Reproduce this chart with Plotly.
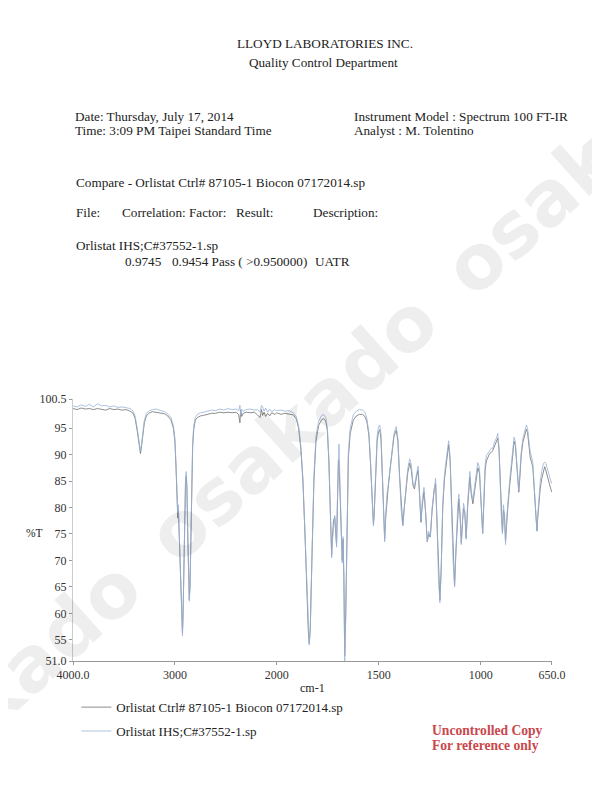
import numpy as np
import plotly.graph_objects as go

# wavenumber grid (cm-1)
wavenumber = [
    4000, 3960, 3920, 3880, 3840, 3800, 3760, 3720, 3680, 3640, 3600, 3560,
    3520, 3480, 3440, 3410, 3390, 3370, 3355, 3345, 3338, 3330, 3318, 3300,
    3280, 3250, 3220, 3180, 3140, 3100, 3070, 3040, 3015, 3000, 2990, 2980,
    2972, 2966, 2960, 2950, 2940, 2932, 2926, 2920, 2912, 2904, 2896, 2889,
    2882, 2874, 2866, 2859, 2852, 2845, 2836, 2826, 2815, 2800, 2780, 2750,
    2720, 2680, 2640, 2600, 2560, 2520, 2480, 2440, 2400, 2375, 2362, 2355,
    2345, 2330, 2300, 2260, 2220, 2190, 2165, 2150, 2140, 2125, 2110, 2090,
    2070, 2050, 2020, 2000, 1980, 1960, 1940, 1920, 1905, 1893, 1882, 1872,
    1862, 1853, 1846, 1841, 1836, 1828, 1818, 1808, 1795, 1780, 1770, 1760,
    1752, 1745, 1740, 1735, 1731, 1727, 1722, 1716, 1711, 1707, 1703, 1698,
    1695, 1691, 1687, 1683, 1679, 1675, 1671, 1667, 1662, 1656, 1649, 1640,
    1625, 1610, 1595, 1580, 1568, 1558, 1548, 1540, 1534, 1529, 1526, 1522,
    1516, 1508, 1501, 1495, 1489, 1483, 1477, 1471, 1466, 1460, 1454, 1445,
    1435, 1425, 1414, 1406, 1398, 1390, 1382, 1376, 1368, 1358, 1348, 1340,
    1332, 1325, 1316, 1307, 1300, 1293, 1286, 1278, 1270, 1262, 1255, 1247,
    1238, 1228, 1221, 1214, 1207, 1200, 1194, 1186, 1178, 1170, 1163, 1157,
    1150, 1143, 1136, 1128, 1121, 1113, 1107, 1101, 1095, 1089, 1084, 1078,
    1071, 1064, 1058, 1053, 1046, 1038, 1030, 1022, 1014, 1006, 998, 990,
    984, 978, 972, 964, 956, 948, 940, 932, 924, 916, 910, 904,
    899, 893, 888, 883, 878, 872, 866, 858, 850, 842, 836, 830,
    824, 818, 813, 807, 801, 793, 784, 776, 770, 764, 757, 750,
    744, 738, 732, 727, 724, 720, 714, 708, 700, 692, 686, 680,
    674, 668, 662, 656, 650,
]

# %T, Orlistat Ctrl# 87105-1 Biocon 07172014.sp
ctrl_t = [
    98.7, 98.5, 98.8, 98.6, 98.7, 98.5, 98.7, 98.6, 98.4, 98.7, 98.5, 98.6,
    98.4, 98.5, 98.2, 97.8, 96.8, 94.5, 92.0, 90.6, 90.2, 91.2, 93.5, 96.0,
    97.3, 97.9, 98.1, 98.0, 97.9, 97.7, 97.3, 96.6, 95.0, 92.5, 88.0, 83.0,
    78.0, 79.5, 76.0, 70.0, 63.0, 58.0, 56.3, 60.0, 70.0, 79.0, 84.5, 86.0,
    83.5, 75.0, 66.0, 62.6, 65.0, 73.0, 84.0, 91.5, 94.8, 96.5, 97.0, 97.3,
    97.4, 97.6, 97.8, 97.8, 98.0, 97.9, 98.0, 97.9, 98.0, 97.6, 96.0, 98.4,
    97.2, 97.8, 98.0, 97.9, 98.0, 97.5, 97.0, 98.5, 97.4, 98.0, 97.2, 97.8,
    97.3, 97.9, 97.6, 97.9, 97.6, 97.8, 97.6, 97.5, 96.8, 95.0, 91.0, 85.0,
    75.0, 64.0, 57.0, 54.3, 57.0, 70.0, 85.0, 92.5, 95.5, 96.6, 96.8, 96.3,
    94.5, 89.0, 81.0, 74.0, 71.0, 74.5, 77.5, 78.2, 76.0, 73.0, 80.0, 89.0,
    88.5, 84.0, 77.0, 74.5, 70.0, 74.0, 67.0, 52.0, 60.0, 78.0, 89.5, 94.0,
    96.5, 97.3, 97.6, 97.6, 97.2, 96.2, 93.5, 88.0, 82.0, 77.5, 76.8, 79.0,
    86.5, 92.5, 94.3, 94.7, 93.0, 87.0, 80.0, 74.0, 78.0, 82.0, 83.6, 87.0,
    90.5, 93.5, 94.6, 92.5, 86.0, 80.0, 76.7, 79.5, 83.0, 86.5, 88.4, 87.0,
    84.2, 83.5, 85.5, 87.0, 82.5, 77.2, 80.5, 83.0, 79.0, 73.5, 75.0, 74.4,
    79.5, 83.5, 84.5, 77.0, 67.0, 62.5, 68.0, 80.0, 85.2, 88.0, 90.5, 91.9,
    89.0, 80.0, 71.0, 65.2, 72.0, 79.0, 81.6, 78.5, 73.3, 77.5, 79.8, 79.0,
    74.2, 80.0, 84.5, 85.8, 82.5, 80.7, 83.0, 85.5, 87.5, 86.5, 80.0, 75.2,
    81.0, 87.0, 88.8, 89.5, 90.2, 90.4, 90.8, 91.6, 92.3, 93.1, 91.0, 84.0,
    79.0, 75.3, 79.5, 78.5, 73.7, 77.5, 80.4, 84.0, 87.0, 90.5, 92.5, 91.8,
    88.0, 84.0, 82.9, 86.0, 89.8, 92.3, 93.7, 94.8, 94.2, 92.2, 89.5, 88.5,
    87.6, 84.0, 80.0, 76.5, 75.6, 78.0, 81.5, 83.5, 85.5, 87.2, 87.7, 87.0,
    86.0, 85.3, 84.3, 83.5, 82.9,
]

# %T, Orlistat IHS;C#37552-1.sp
ihs_t = [
    99.2, 99.0, 99.4, 99.1, 99.5, 99.0, 99.6, 99.2, 99.3, 99.0, 99.2, 98.9,
    99.0, 98.8, 98.7, 98.2, 97.2, 95.0, 92.5, 91.0, 90.6, 91.5, 93.8, 96.4,
    97.8, 98.3, 98.5, 98.6, 98.3, 98.1, 97.7, 97.0, 95.5, 93.0, 88.5, 83.5,
    79.0, 80.5, 77.0, 70.5, 63.0, 57.5, 55.8, 59.5, 70.0, 79.5, 85.5, 86.8,
    84.0, 75.0, 65.5, 62.3, 65.0, 73.5, 85.0, 92.3, 95.5, 97.0, 97.6, 97.9,
    98.0, 98.2, 98.4, 98.3, 98.6, 98.4, 98.7, 98.5, 98.6, 98.3, 99.3, 97.5,
    98.6, 98.2, 98.5, 98.6, 98.4, 98.5, 98.0, 99.3, 99.0, 98.2, 98.8, 98.0,
    98.6, 98.1, 98.5, 98.3, 98.4, 98.2, 98.3, 97.9, 97.2, 95.4, 91.5, 85.5,
    75.0, 63.5, 56.5, 54.0, 57.0, 71.0, 86.0, 93.5, 96.3, 97.4, 97.6, 97.0,
    95.0, 89.5, 81.5, 73.5, 70.5, 74.0, 77.0, 78.5, 75.5, 72.5, 81.0, 91.0,
    92.0, 86.0, 77.5, 74.5, 69.5, 74.5, 66.0, 51.0, 59.0, 79.0, 90.5, 95.0,
    97.5, 98.2, 98.5, 98.4, 98.0, 96.8, 94.0, 88.5, 82.0, 77.0, 76.5, 79.5,
    87.5, 93.5, 95.3, 95.6, 94.0, 87.5, 80.0, 73.5, 78.5, 82.5, 84.0, 87.5,
    91.0, 94.0, 95.3, 93.0, 86.0, 79.5, 76.5, 79.5, 83.5, 87.3, 89.2, 88.0,
    84.5, 84.0, 86.0, 87.8, 83.0, 77.5, 81.5, 83.8, 79.0, 73.5, 75.5, 74.5,
    80.0, 84.0, 85.5, 77.0, 66.5, 62.0, 67.5, 80.5, 86.0, 88.8, 91.3, 92.6,
    89.5, 80.0, 70.5, 65.0, 72.5, 80.0, 82.5, 79.0, 73.0, 78.5, 80.8, 79.5,
    74.0, 81.0, 85.5, 86.8, 83.0, 81.5, 84.0, 86.5, 88.5, 87.5, 80.5, 75.0,
    82.0, 88.0, 89.8, 90.3, 90.6, 91.2, 91.2, 92.4, 93.0, 94.0, 91.5, 84.0,
    78.5, 75.0, 80.5, 78.0, 73.0, 78.0, 81.5, 85.0, 88.0, 91.5, 93.3, 92.5,
    88.5, 84.5, 83.2, 86.8, 90.5, 93.0, 94.5, 95.6, 95.0, 93.0, 90.5, 89.5,
    88.5, 84.5, 80.0, 76.0, 75.5, 78.5, 82.5, 84.8, 87.0, 88.3, 88.6, 88.3,
    87.5, 86.5, 85.8, 85.0, 84.5,
]

y_ticks = [51.0, 55, 60, 65, 70, 75, 80, 85, 90, 95, 100.5]
y_ticktext = ["51.0", "55", "60", "65", "70", "75", "80", "85", "90", "95", "100.5"]
x_hi_ticks = [4000, 3000, 2000]
x_hi_ticktext = ["4000.0", "3000", "2000"]
x_lo_ticks = [1500, 1000, 650]
x_lo_ticktext = ["1500", "1000", "650.0"]

SERIF = "Liberation Serif"
wn = np.array(wavenumber)
split = 2000 / 4700  # the scan doubles its scale below 2000 cm-1

fig = go.Figure()
series = [
    ("Orlistat Ctrl# 87105-1 Biocon 07172014.sp", ctrl_t, "#707070", "ctrl"),
    ("Orlistat IHS;C#37552-1.sp", ihs_t, "#98b3d8", "ihs"),
]
for name, values, color, group in series:
    t = np.array(values)
    hi = wn >= 2000
    lo = wn <= 2000
    fig.add_trace(go.Scatter(
        x=wn[hi], y=t[hi], mode="lines", name=name, legendgroup=group,
        line=dict(color=color, width=0.8), xaxis="x", yaxis="y",
    ))
    fig.add_trace(go.Scatter(
        x=wn[lo], y=t[lo], mode="lines", name=name, legendgroup=group,
        showlegend=False, line=dict(color=color, width=0.8),
        xaxis="x2", yaxis="y",
    ))

axis_font = dict(family=SERIF, size=12, color="#333")
# the page body adds an 8px margin, so the figure is 16px smaller than the window
fig.update_layout(
    width=584,
    height=771,
    margin=dict(l=65, r=40, t=391, b=118),
    paper_bgcolor="white",
    plot_bgcolor="white",
    font=dict(family=SERIF, size=13, color="#222"),
    xaxis=dict(
        domain=[0, split], range=[4000, 2000], anchor="y",
        tickvals=x_hi_ticks, ticktext=x_hi_ticktext, tickfont=axis_font,
        showgrid=False, zeroline=False, showline=True, linecolor="#999",
        linewidth=1, ticks="outside", ticklen=3, tickcolor="#999",
    ),
    xaxis2=dict(
        domain=[split, 1], range=[2000, 650], anchor="y",
        tickvals=x_lo_ticks, ticktext=x_lo_ticktext, tickfont=axis_font,
        showgrid=False, zeroline=False, showline=True, linecolor="#999",
        linewidth=1, ticks="outside", ticklen=3, tickcolor="#999",
    ),
    yaxis=dict(
        range=[51.0, 100.5], tickvals=y_ticks, ticktext=y_ticktext,
        tickfont=axis_font, showgrid=False, zeroline=False, showline=True,
        linecolor="#ccc", linewidth=1, ticks="outside", ticklen=3,
        tickcolor="#999",
    ),
    showlegend=True,
    legend=dict(
        x=0.007, y=-0.119, xanchor="left", yanchor="top",
        traceorder="grouped", tracegroupgap=4,
        font=dict(family=SERIF, size=13, color="#222"),
        bgcolor="rgba(0,0,0,0)",
    ),
)

# watermark
fig.add_annotation(
    text="osakado\u2009 osakado\u2009 osakado", xref="paper", yref="paper",
    x=0.458, y=0.891, xanchor="center", yanchor="middle",
    showarrow=False, textangle=-42,
    font=dict(family="DejaVu Sans", size=76, color="rgba(0,0,0,0.065)",
              weight="bold"),
)


def note(text, x, y, size=13.2, anchor="left", color="#222", bold=False):
    if bold:
        text = f"<b>{text}</b>"
    fig.add_annotation(
        text=text, xref="paper", yref="paper", x=x, y=y, showarrow=False,
        xanchor=anchor, yanchor="middle",
        font=dict(family=SERIF, size=size, color=color),
    )


note("LLOYD LABORATORIES INC.", 0.526, 2.355, anchor="center")
note("Quality Control Department", 0.522, 2.283, anchor="center")
note("Date: Thursday, July 17, 2014", 0.0, 2.080)
note("Time: 3:09 PM Taipei Standard Time", 0.0, 2.023)
note("Instrument Model : Spectrum 100 FT-IR", 0.5825, 2.080)
note("Analyst : M. Tolentino", 0.5825, 2.023)
note("Compare - Orlistat Ctrl# 87105-1 Biocon 07172014.sp", 0.002, 1.828)
note("File:", 0.002, 1.713)
note("Correlation: Factor:", 0.098, 1.713)
note("Result:", 0.336, 1.713)
note("Description:", 0.497, 1.713)
note("Orlistat IHS;C#37552-1.sp", 0.002, 1.586)
note("0.9745", 0.104, 1.525)
note("0.9454 Pass ( &gt;0.950000)", 0.2025, 1.525)
note("UATR", 0.501, 1.525)
note("%T", -0.103, 0.49, size=11.5)
note("cm-1", 0.501, -0.103, size=12, anchor="center")
note("Uncontrolled Copy", 0.745, -0.264, size=13.6, color="#c9474c", bold=True)
note("For reference only", 0.745, -0.322, size=13.6, color="#c9474c", bold=True)

fig.write_html("out.html")
